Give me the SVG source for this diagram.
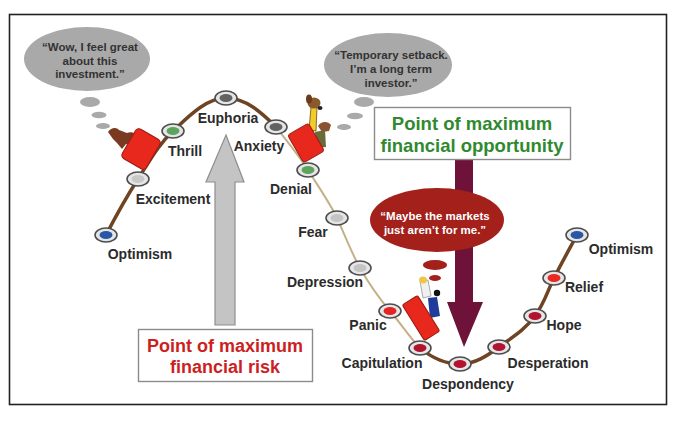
<svg xmlns="http://www.w3.org/2000/svg" width="690" height="424" viewBox="0 0 690 424">
<style>
.lbl{font-family:"Liberation Sans",Arial,sans-serif;font-weight:bold;font-size:14px;fill:#2b2b2b;text-anchor:middle}
.bt{font-family:"Liberation Sans",Arial,sans-serif;font-weight:bold;font-size:11.5px;fill:#333;text-anchor:middle}
.wt{font-family:"Liberation Sans",Arial,sans-serif;font-weight:bold;font-size:11.5px;fill:#fff;text-anchor:middle}
.big{font-family:"Liberation Sans",Arial,sans-serif;font-weight:bold;font-size:18px;text-anchor:middle}
.out{fill:#e6e6e6;stroke:#4d4d4d;stroke-width:1.6}
.gb{fill:#a9a9a9}
.rb{fill:#a3201b}
.thick{fill:none;stroke:#6e4423;stroke-width:3.5;stroke-linecap:round}
.thin{fill:none;stroke:#c5b187;stroke-width:2;stroke-linecap:round}
.car{fill:#e8281d;stroke:#9a1a12;stroke-width:1}
</style>
<rect x="0" y="0" width="690" height="424" fill="#fff"/>
<rect x="9.5" y="14.5" width="657" height="390" fill="#fff" stroke="#222" stroke-width="1.6"/>

<g id="bubble-wow">
<ellipse class="gb" cx="87" cy="59" rx="63" ry="32"/>
<ellipse class="gb" cx="90" cy="102" rx="10" ry="5"/>
<ellipse class="gb" cx="99" cy="115" rx="7.5" ry="3.2"/>
<ellipse class="gb" cx="103" cy="126" rx="7" ry="3"/>
<text class="bt" x="90" y="51">“Wow, I feel great</text>
<text class="bt" x="90" y="65">about this</text>
<text class="bt" x="90" y="78">investment.”</text>
</g>

<g id="bubble-temporary">
<ellipse class="gb" cx="388" cy="65" rx="64" ry="32"/>
<ellipse class="gb" cx="364" cy="102" rx="10" ry="5"/>
<ellipse class="gb" cx="355" cy="116" rx="8" ry="3.2"/>
<ellipse class="gb" cx="344" cy="127" rx="7" ry="3"/>
<text class="bt" x="391" y="59">“Temporary setback.</text>
<text class="bt" x="391" y="73">I’m a long term</text>
<text class="bt" x="391" y="87">investor.”</text>
</g>

<g id="connectors">
<path class="thick" d="M106,235 C118,212 127,196 138,179 S158,145 173,131 S206,98 226,98 S262,113 276,127"/>
<path class="thin" d="M276,127 C290,145 300,157 308,170 S330,203 337,218 S352,254 360,268 S378,297 390,311 S410,338 420,348"/>
<path class="thick" d="M420,348 C432,358 445,364 460,364 S487,356 499,347 S525,330 535,316 S547,292 554,278 S570,248 577,235"/>
</g>

<g id="arrow-risk">
<path d="M226,135 L244,182 L235,182 L235,325 L215,325 L215,182 L206,182 Z" fill="#c4c4c4" stroke="#8e8e8e" stroke-width="1.2"/>
</g>

<g id="arrow-opportunity">
<path d="M455,160 L473,160 L473,302 L483,302 L464,347 L447,302 L455,302 Z" fill="#6e1239"/>
</g>

<g id="bubble-maybe">
<ellipse class="rb" cx="437" cy="220" rx="67" ry="32"/>
<ellipse class="rb" cx="435" cy="265" rx="12" ry="5"/>
<ellipse class="rb" cx="435" cy="278" rx="6" ry="3"/>
<text class="wt" x="435" y="220">“Maybe the markets</text>
<text class="wt" x="435" y="234">just aren’t for me.”</text>
</g>

<g id="box-risk">
<rect x="138.5" y="329.5" width="174" height="52" fill="#fff" stroke="#8c8c8c" stroke-width="1.4"/>
<text class="big" x="225" y="352" fill="#cc1f1f">Point of maximum</text>
<text class="big" x="225" y="373" fill="#cc1f1f">financial risk</text>
</g>

<g id="box-opportunity">
<rect x="374.5" y="107.5" width="196" height="52" fill="#fff" stroke="#8c8c8c" stroke-width="1.4"/>
<text class="big" x="472" y="130" fill="#2f8a2f" style="font-size:18.5px">Point of maximum</text>
<text class="big" x="472" y="152" fill="#2f8a2f" style="font-size:18.5px">financial opportunity</text>
</g>

<g id="car-left">
<path d="M108,132 C111,127 117,127 119,130 L127,133 C131,131 136,133 137,137 L133,146 L126,144 L122,149 L117,143 L113,139 Z" fill="#7a3a22"/>
<rect class="car" x="127" y="132" width="28" height="34" rx="4" transform="rotate(30 141 149)"/>
</g>

<g id="car-middle">
<path d="M309,130 L311,107 L317,107 L316,131 Z" fill="#f2cc2a" stroke="#6b4a10" stroke-width="0.8"/>
<ellipse cx="314" cy="103" rx="6.5" ry="5.5" fill="#8a5a2a"/>
<ellipse cx="309" cy="99" rx="3" ry="4.5" fill="#6b3a1a"/>
<ellipse cx="320" cy="108" rx="2.5" ry="2" fill="#222"/>
<path d="M318,126 C321,121 328,121 331,125 L329,131 L322,132 Z" fill="#8a5030"/>
<path d="M315,132 L325,130 L326,147 L316,148 Z" fill="#6a6a3a"/>
<rect class="car" x="294" y="127" width="24" height="32" rx="3" transform="rotate(-30 306 143)"/>
</g>

<g id="car-lower">
<path d="M420,281 L428,280 L431,296 L423,298 Z" fill="#f0f0f0" stroke="#777" stroke-width="0.6"/>
<ellipse cx="423" cy="280" rx="4" ry="3.5" fill="#f0c64a"/>
<path d="M428,298 L437,297 L440,316 L430,318 Z" fill="#1f3c9a"/>
<circle cx="437" cy="293" r="3.2" fill="#111"/>
<rect class="car" x="412" y="297" width="18" height="42" rx="2" transform="rotate(-32 421 318)"/>
</g>

<g id="node-optimism-1">
<ellipse class="out" cx="106" cy="235" rx="11" ry="7"/>
<ellipse cx="106" cy="235" rx="6.5" ry="4" fill="#2a56a8"/>
<text class="lbl" x="140" y="259">Optimism</text>
</g>
<g id="node-excitement">
<ellipse class="out" cx="138" cy="179" rx="11" ry="7"/>
<ellipse cx="138" cy="179" rx="6.5" ry="4" fill="#c8c8c8"/>
<text class="lbl" x="173" y="204">Excitement</text>
</g>
<g id="node-thrill">
<ellipse class="out" cx="173" cy="131" rx="11" ry="7"/>
<ellipse cx="173" cy="131" rx="6.5" ry="4" fill="#5ea45e"/>
<text class="lbl" x="185" y="156">Thrill</text>
</g>
<g id="node-euphoria">
<ellipse class="out" cx="226" cy="98" rx="11" ry="7"/>
<ellipse cx="226" cy="98" rx="6.5" ry="4" fill="#626262"/>
<text class="lbl" x="228" y="123">Euphoria</text>
</g>
<g id="node-anxiety">
<ellipse class="out" cx="276" cy="127" rx="11" ry="7"/>
<ellipse cx="276" cy="127" rx="6.5" ry="4" fill="#626262"/>
<text class="lbl" x="259" y="151">Anxiety</text>
</g>
<g id="node-denial">
<ellipse class="out" cx="308" cy="170" rx="11" ry="7"/>
<ellipse cx="308" cy="170" rx="6.5" ry="4" fill="#5ea45e"/>
<text class="lbl" x="291" y="194">Denial</text>
</g>
<g id="node-fear">
<ellipse class="out" cx="337" cy="218" rx="11" ry="7"/>
<ellipse cx="337" cy="218" rx="6.5" ry="4" fill="#c4c4c4"/>
<text class="lbl" x="313" y="237">Fear</text>
</g>
<g id="node-depression">
<ellipse class="out" cx="360" cy="268" rx="11" ry="7"/>
<ellipse cx="360" cy="268" rx="6.5" ry="4" fill="#c4c4c4"/>
<text class="lbl" x="325" y="287">Depression</text>
</g>
<g id="node-panic">
<ellipse class="out" cx="390" cy="311" rx="11" ry="7"/>
<ellipse cx="390" cy="311" rx="6.5" ry="4" fill="#e42323"/>
<text class="lbl" x="368" y="330">Panic</text>
</g>
<g id="node-capitulation">
<ellipse class="out" cx="420" cy="348" rx="11" ry="7"/>
<ellipse cx="420" cy="348" rx="6.5" ry="4" fill="#b0142e"/>
<text class="lbl" x="382" y="368">Capitulation</text>
</g>
<g id="node-despondency">
<ellipse class="out" cx="460" cy="364" rx="11" ry="7"/>
<ellipse cx="460" cy="364" rx="6.5" ry="4" fill="#b0142e"/>
<text class="lbl" x="468" y="389">Despondency</text>
</g>
<g id="node-desperation">
<ellipse class="out" cx="499" cy="347" rx="11" ry="7"/>
<ellipse cx="499" cy="347" rx="6.5" ry="4" fill="#b0142e"/>
<text class="lbl" x="548" y="368">Desperation</text>
</g>
<g id="node-hope">
<ellipse class="out" cx="535" cy="316" rx="11" ry="7"/>
<ellipse cx="535" cy="316" rx="6.5" ry="4" fill="#b0142e"/>
<text class="lbl" x="564" y="330">Hope</text>
</g>
<g id="node-relief">
<ellipse class="out" cx="554" cy="278" rx="11" ry="7"/>
<ellipse cx="554" cy="278" rx="6.5" ry="4" fill="#e82a22"/>
<text class="lbl" x="584" y="292">Relief</text>
</g>
<g id="node-optimism-2">
<ellipse class="out" cx="577" cy="235" rx="11" ry="7"/>
<ellipse cx="577" cy="235" rx="6.5" ry="4" fill="#2a56a8"/>
<text class="lbl" x="621" y="254">Optimism</text>
</g>
</svg>
